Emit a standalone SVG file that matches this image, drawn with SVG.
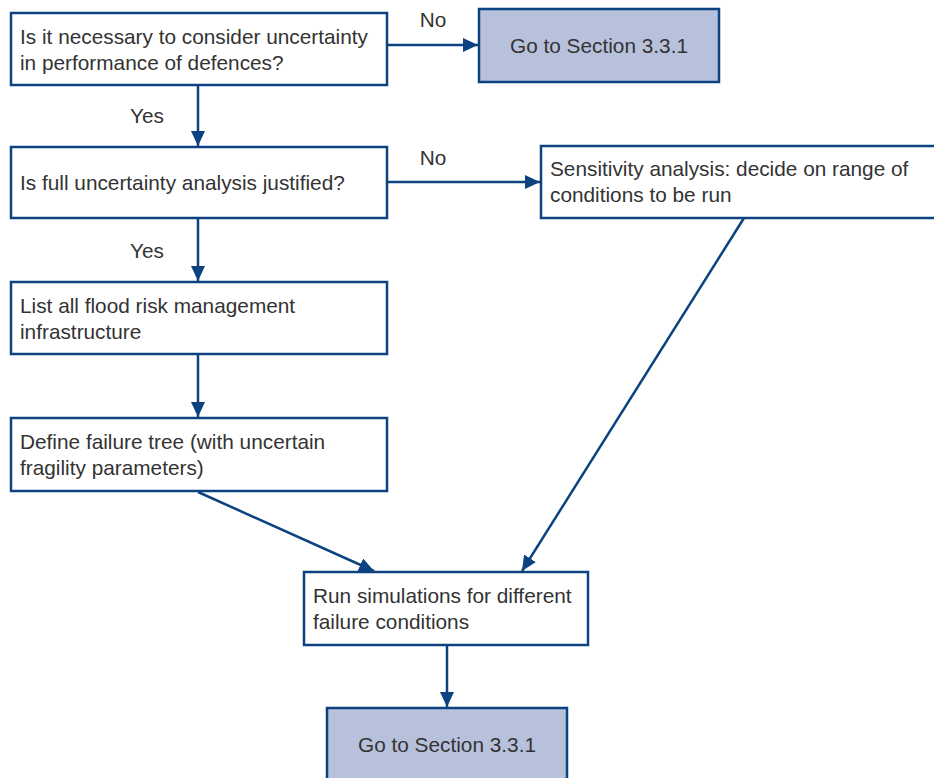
<svg xmlns="http://www.w3.org/2000/svg" width="934" height="778" viewBox="0 0 934 778">
  <style>
    .box { fill: #ffffff; stroke: #0b427f; stroke-width: 2.5; }
    .goto { fill: #b8c1dc; stroke: #0b427f; stroke-width: 2.5; }
    .lbl { font-family: "Liberation Sans", Arial, sans-serif; font-size: 20.8px; fill: #333333; }
    .mid { text-anchor: middle; }
    .edge { fill: none; stroke: #0b427f; stroke-width: 2.5; marker-end: url(#arrow); }
  </style>
  <defs>
    <marker id="arrow" markerUnits="userSpaceOnUse" markerWidth="16" markerHeight="14" refX="15" refY="7" orient="auto">
      <path d="M0,0 L15,7 L0,14 z" fill="#0b427f"/>
    </marker>
  </defs>
  <rect width="934" height="778" fill="#ffffff"/>

  <g id="connectors">
    <line class="edge" x1="387" y1="45" x2="478" y2="45"/>
    <line class="edge" x1="198" y1="85" x2="198" y2="146"/>
    <line class="edge" x1="387" y1="182" x2="540" y2="182"/>
    <line class="edge" x1="198" y1="218" x2="198" y2="281"/>
    <line class="edge" x1="198" y1="354" x2="198" y2="417"/>
    <line class="edge" x1="198" y1="492" x2="374" y2="571"/>
    <line class="edge" x1="744" y1="218" x2="522" y2="571"/>
    <line class="edge" x1="447" y1="645" x2="447" y2="707"/>
    <text class="lbl mid" x="433" y="27">No</text>
    <text class="lbl mid" x="147" y="123">Yes</text>
    <text class="lbl mid" x="433" y="165">No</text>
    <text class="lbl mid" x="147" y="258">Yes</text>
  </g>

  <g id="q-uncertainty">
    <rect class="box" x="11" y="13" width="376" height="72"/>
    <text class="lbl" x="20" y="44">Is it necessary to consider uncertainty</text>
    <text class="lbl" x="20" y="70">in performance of defences?</text>
  </g>

  <g id="goto-top">
    <rect class="goto" x="479" y="9" width="240" height="73"/>
    <text class="lbl mid" x="599" y="53">Go to Section 3.3.1</text>
  </g>

  <g id="q-full-analysis">
    <rect class="box" x="11" y="147" width="376" height="71"/>
    <text class="lbl" x="20" y="190">Is full uncertainty analysis justified?</text>
  </g>

  <g id="sensitivity">
    <rect class="box" x="541" y="146" width="420" height="72"/>
    <text class="lbl" x="550" y="176">Sensitivity analysis: decide on range of</text>
    <text class="lbl" x="550" y="202">conditions to be run</text>
  </g>

  <g id="list-infrastructure">
    <rect class="box" x="11" y="282" width="376" height="72"/>
    <text class="lbl" x="20" y="313">List all flood risk management</text>
    <text class="lbl" x="20" y="339">infrastructure</text>
  </g>

  <g id="failure-tree">
    <rect class="box" x="11" y="418" width="376" height="73"/>
    <text class="lbl" x="20" y="449">Define failure tree (with uncertain</text>
    <text class="lbl" x="20" y="475">fragility parameters)</text>
  </g>

  <g id="run-simulations">
    <rect class="box" x="304" y="572" width="284" height="73"/>
    <text class="lbl" x="313" y="603">Run simulations for different</text>
    <text class="lbl" x="313" y="629">failure conditions</text>
  </g>

  <g id="goto-bottom">
    <rect class="goto" x="327" y="708" width="240" height="85"/>
    <text class="lbl mid" x="447" y="752">Go to Section 3.3.1</text>
  </g>
</svg>
